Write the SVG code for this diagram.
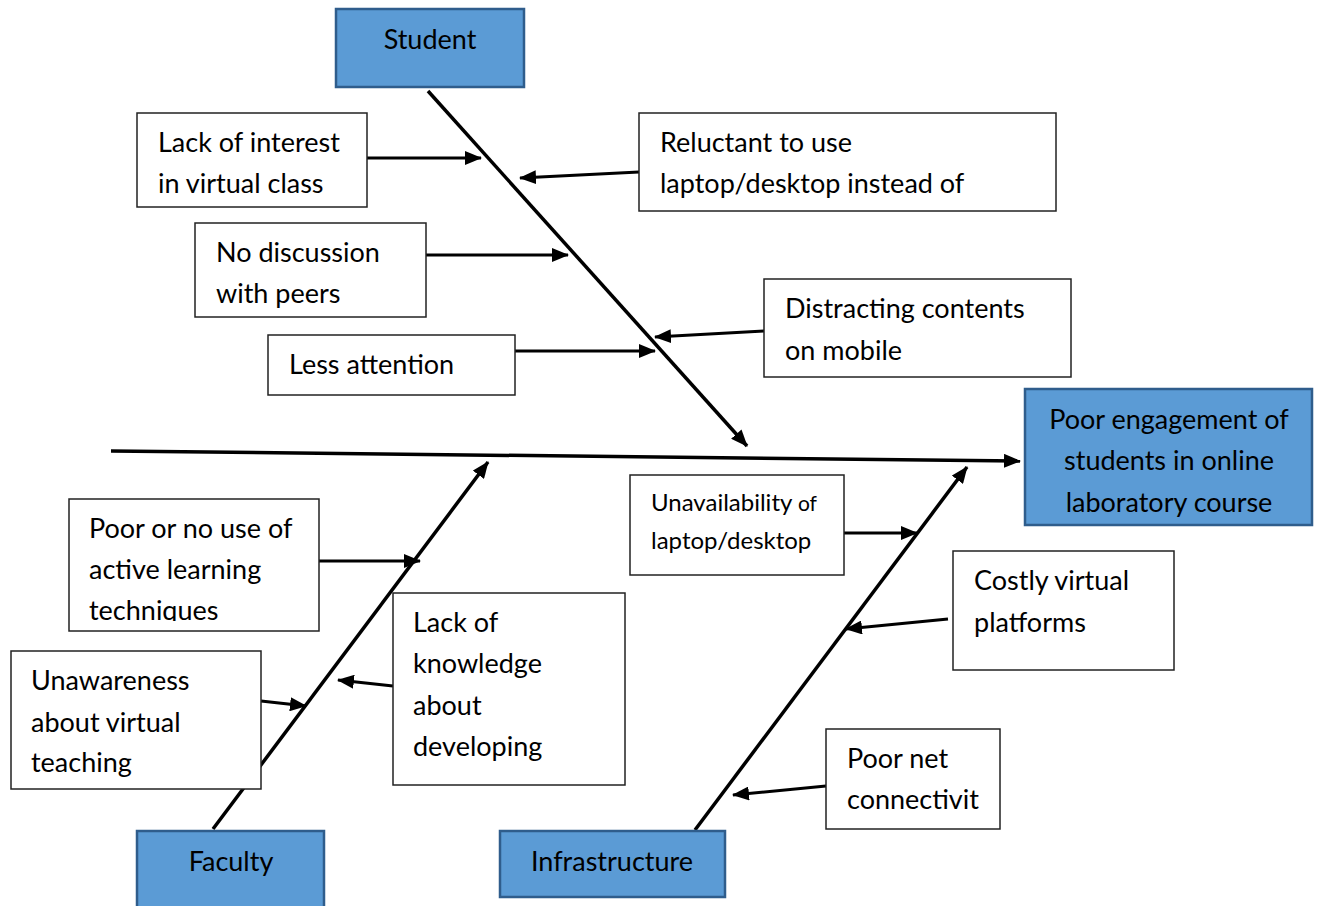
<svg xmlns="http://www.w3.org/2000/svg" width="1317" height="906" viewBox="0 0 1317 906">
<style>
.box{fill:#fff;stroke:#222;stroke-width:1.5}
.cat{fill:#5b9bd5;stroke:#2f5d8c;stroke-width:2.5}
.t{font-family:Lato,"Carlito","Open Sans",sans-serif;font-size:27px;fill:#000}
.tc{text-anchor:middle}
.bone{stroke:#000;stroke-width:3.5;fill:none}
.arr{stroke:#000;stroke-width:3;fill:none}
</style>
<defs>
<marker id="ah" markerUnits="userSpaceOnUse" markerWidth="18" markerHeight="14" refX="16" refY="7" orient="auto">
<path d="M0,0 L17,7 L0,14 Z" fill="#000"/>
</marker>
<clipPath id="clipPoor"><rect x="69" y="499" width="250" height="122"/></clipPath>
</defs>
<rect width="1317" height="906" fill="#fff"/>
<g id="connectors">
<line class="bone" x1="111" y1="451" x2="1020" y2="461" marker-end="url(#ah)"/>
<line class="bone" x1="428" y1="91" x2="747" y2="446" marker-end="url(#ah)"/>
<line class="bone" x1="213" y1="829" x2="488" y2="462" marker-end="url(#ah)"/>
<line class="bone" x1="695" y1="830" x2="967" y2="467" marker-end="url(#ah)"/>
<line class="arr" x1="367" y1="158" x2="481" y2="158" marker-end="url(#ah)"/>
<line class="arr" x1="639" y1="172" x2="520" y2="178" marker-end="url(#ah)"/>
<line class="arr" x1="426" y1="255" x2="568" y2="255" marker-end="url(#ah)"/>
<line class="arr" x1="764" y1="331" x2="655" y2="337" marker-end="url(#ah)"/>
<line class="arr" x1="515" y1="351" x2="655" y2="351" marker-end="url(#ah)"/>
<line class="arr" x1="319" y1="561" x2="420" y2="561" marker-end="url(#ah)"/>
<line class="arr" x1="261" y1="701" x2="306" y2="706" marker-end="url(#ah)"/>
<line class="arr" x1="393" y1="686" x2="338" y2="680" marker-end="url(#ah)"/>
<line class="arr" x1="844" y1="533" x2="917" y2="533" marker-end="url(#ah)"/>
<line class="arr" x1="948" y1="619" x2="846" y2="629" marker-end="url(#ah)"/>
<line class="arr" x1="826" y1="786" x2="733" y2="795" marker-end="url(#ah)"/>
</g>
<g id="student">
<rect class="cat" x="336" y="9" width="188" height="78"/>
<text class="t tc" x="430" y="49">Student</text>
</g>
<g id="effect">
<rect class="cat" x="1025" y="389" width="287" height="136"/>
<text class="t tc" x="1169" y="429">Poor engagement of</text>
<text class="t tc" x="1169" y="470">students in online</text>
<text class="t tc" x="1169" y="512">laboratory course</text>
</g>
<g id="faculty">
<rect class="cat" x="137" y="831" width="187" height="80"/>
<text class="t tc" x="231" y="871">Faculty</text>
</g>
<g id="infrastructure">
<rect class="cat" x="500" y="831" width="225" height="66"/>
<text class="t tc" x="612" y="871">Infrastructure</text>
</g>
<g id="lack-interest">
<rect class="box" x="137" y="113" width="230" height="94"/>
<text class="t" x="158" y="152">Lack of interest</text>
<text class="t" x="158" y="193">in virtual class</text>
</g>
<g id="reluctant">
<rect class="box" x="639" y="113" width="417" height="98"/>
<text class="t" x="660" y="152">Reluctant to use</text>
<text class="t" x="660" y="193">laptop/desktop instead of</text>
</g>
<g id="no-discussion">
<rect class="box" x="195" y="223" width="231" height="94"/>
<text class="t" x="216" y="262">No discussion</text>
<text class="t" x="216" y="303">with peers</text>
</g>
<g id="distracting">
<rect class="box" x="764" y="279" width="307" height="98"/>
<text class="t" x="785" y="318">Distracting contents</text>
<text class="t" x="785" y="360">on mobile</text>
</g>
<g id="less-attention">
<rect class="box" x="268" y="335" width="247" height="60"/>
<text class="t" x="289" y="374">Less attention</text>
</g>
<g id="poor-use">
<rect class="box" x="69" y="499" width="250" height="132"/>
<g clip-path="url(#clipPoor)">
<text class="t" x="89" y="538">Poor or no use of</text>
<text class="t" x="89" y="579">active learning</text>
<text class="t" x="89" y="620">techniques</text>
</g>
</g>
<g id="unawareness">
<rect class="box" x="11" y="651" width="250" height="138"/>
<text class="t" x="31" y="690">Unawareness</text>
<text class="t" x="31" y="732">about virtual</text>
<text class="t" x="31" y="772">teaching</text>
</g>
<g id="lack-knowledge">
<rect class="box" x="393" y="593" width="232" height="192"/>
<text class="t" x="413" y="632">Lack of</text>
<text class="t" x="413" y="673">knowledge</text>
<text class="t" x="413" y="715">about</text>
<text class="t" x="413" y="756">developing</text>
</g>
<g id="unavailability">
<rect class="box" x="630" y="475" width="214" height="100"/>
<text class="t" x="651" y="511" style="font-size:24px">Unavailability <tspan style="font-size:21px">of</tspan></text>
<text class="t" x="651" y="549" style="font-size:24px">laptop/desktop</text>
</g>
<g id="costly">
<rect class="box" x="953" y="551" width="221" height="119"/>
<text class="t" x="974" y="590">Costly virtual</text>
<text class="t" x="974" y="632">platforms</text>
</g>
<g id="poor-net">
<rect class="box" x="826" y="729" width="174" height="100"/>
<text class="t" x="847" y="768">Poor net</text>
<text class="t" x="847" y="809">connectivit</text>
</g>
</svg>
